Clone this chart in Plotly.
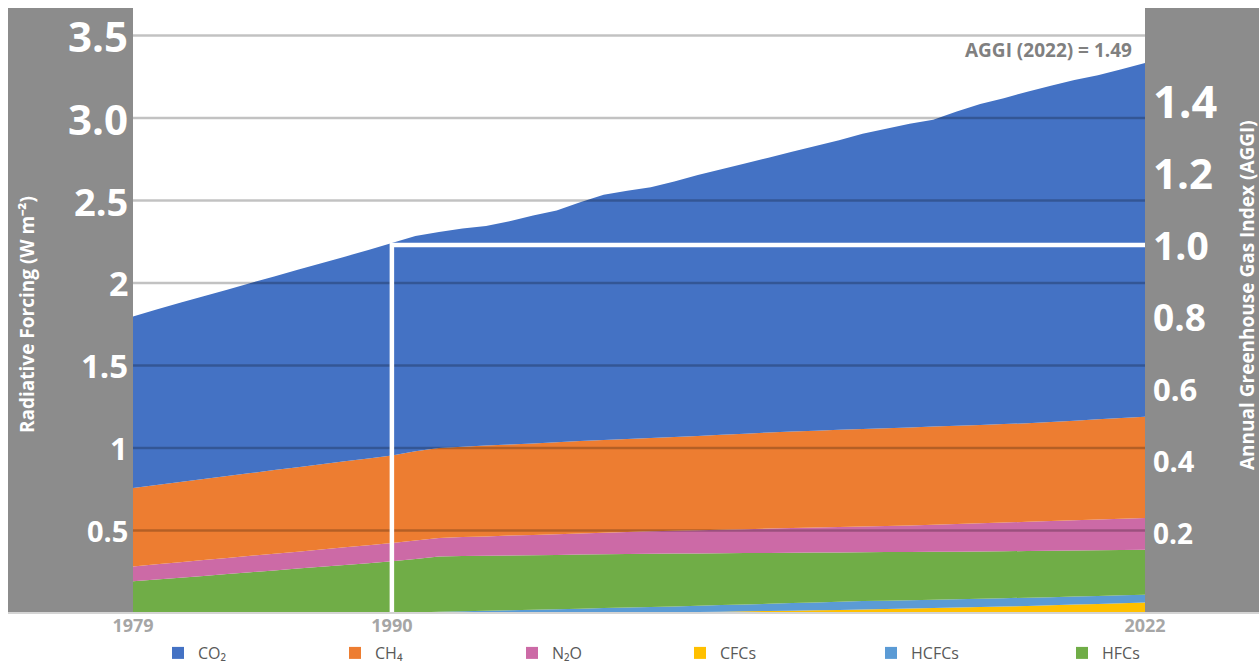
import plotly.graph_objects as go

# ---------------- data ----------------
years = list(range(1979, 2023))

co2 = [1.039, 1.064, 1.086, 1.108, 1.130, 1.152, 1.174, 1.196, 1.218, 1.240, 1.263, 1.287,
       1.305, 1.310, 1.322, 1.330, 1.353, 1.382, 1.405, 1.448, 1.487, 1.506, 1.520, 1.548,
       1.582, 1.610, 1.638, 1.666, 1.695, 1.725, 1.755, 1.790, 1.815, 1.840, 1.860, 1.905,
       1.945, 1.975, 2.010, 2.037, 2.064, 2.086, 2.113, 2.143]
ch4 = [0.476, 0.481, 0.486, 0.491, 0.496, 0.501, 0.507, 0.512, 0.517, 0.522, 0.526, 0.531,
       0.540, 0.545, 0.548, 0.551, 0.553, 0.555, 0.557, 0.560, 0.562, 0.563, 0.565, 0.569,
       0.571, 0.575, 0.579, 0.582, 0.585, 0.587, 0.589, 0.590, 0.592, 0.594, 0.595, 0.596,
       0.596, 0.597, 0.597, 0.601, 0.604, 0.608, 0.611, 0.614]
n2o = [0.090, 0.092, 0.094, 0.096, 0.098, 0.100, 0.101, 0.103, 0.105, 0.107, 0.109, 0.111,
       0.112, 0.112, 0.115, 0.117, 0.120, 0.123, 0.126, 0.128, 0.130, 0.134, 0.136, 0.138,
       0.141, 0.143, 0.145, 0.148, 0.150, 0.152, 0.154, 0.157, 0.159, 0.161, 0.164, 0.167,
       0.171, 0.174, 0.177, 0.180, 0.183, 0.186, 0.189, 0.193]
hfcs = [0.192, 0.203, 0.214, 0.225, 0.236, 0.247, 0.258, 0.269, 0.280, 0.291, 0.302, 0.313,
        0.325, 0.336, 0.335, 0.334, 0.333, 0.330, 0.329, 0.328, 0.326, 0.324, 0.323, 0.320,
        0.317, 0.314, 0.311, 0.308, 0.305, 0.302, 0.299, 0.296, 0.294, 0.292, 0.290, 0.288,
        0.286, 0.284, 0.283, 0.281, 0.279, 0.277, 0.275, 0.273]
hcfcs = [0, 0, 0, 0, 0, 0, 0, 0, 0, 0, 0, 0,
         0.003, 0.007, 0.010, 0.013, 0.016, 0.020, 0.023, 0.026, 0.030, 0.033, 0.034, 0.036,
         0.038, 0.040, 0.042, 0.044, 0.046, 0.048, 0.050, 0.051, 0.051, 0.051, 0.051, 0.051,
         0.051, 0.051, 0.050, 0.049, 0.049, 0.048, 0.048, 0.046]
cfcs = [0, 0, 0, 0, 0, 0, 0, 0, 0, 0, 0, 0,
        0, 0, 0, 0, 0, 0, 0, 0, 0, 0, 0.002, 0.004,
        0.006, 0.008, 0.010, 0.012, 0.014, 0.016, 0.018, 0.021, 0.024, 0.027, 0.030, 0.033,
        0.036, 0.039, 0.043, 0.047, 0.051, 0.055, 0.059, 0.064]

forcing_ticks = [0.5, 1, 1.5, 2, 2.5, 3.0, 3.5]
forcing_ticktext = ["0.5", "1", "1.5", "2", "2.5", "3.0", "3.5"]
forcing_tick_sizes = [29, 31, 33, 34, 38, 42, 42]

aggi_ticks = [0.2, 0.4, 0.6, 0.8, 1.0, 1.2, 1.4]
aggi_ticktext = ["0.2", "0.4", "0.6", "0.8", "1.0", "1.2", "1.4"]
aggi_tick_sizes = [28, 29, 31, 37, 39, 42, 45]

year_ticks = [1979, 1990, 2022]
base_year = 1990
aggi_2022 = 1.49

series = [
    ("CFCs", cfcs, "#ffc000"),
    ("HCFCs", hcfcs, "#5b9bd5"),
    ("HFCs", hfcs, "#70ad47"),
    ("N₂O", n2o, "#cc6aa6"),
    ("CH₄", ch4, "#ed7d31"),
    ("CO₂", co2, "#4472c4"),
]
legend_groups = [["CO₂", "CH₄", "N₂O"], ["CFCs", "HCFCs", "HFCs"]]

# ---------------- layout geometry ----------------
W, H = 1259, 666
ML, MR, MT, MB = 133, 114, 8, 53
PW, PH = W - ML - MR, H - MT - MB
Y_RANGE = [0, 3.667]
Y2_RANGE = [-0.0222, 1.658]
GRAY = "#8c8c8c"
FONT = "Open Sans"

fig = go.Figure()

for name, vals, col in series:
    fig.add_trace(go.Scatter(
        x=years, y=vals, stackgroup="one", mode="none",
        fillcolor=col, name=name, showlegend=False, hoverinfo="skip"))

# gridlines drawn above the areas (semi-transparent)
gx, gy = [], []
for v in forcing_ticks:
    gx += [years[0], years[-1], None]
    gy += [v, v, None]
fig.add_trace(go.Scatter(x=gx, y=gy, mode="lines",
                         line=dict(color="rgba(0,0,0,0.24)", width=2.5),
                         showlegend=False, hoverinfo="skip"))

# AGGI = 1 reference (1990)
fig.add_trace(go.Scatter(x=[base_year, base_year, years[-1]],
                         y=[Y2_RANGE[0], 1.0, 1.0], yaxis="y2", mode="lines",
                         line=dict(color="white", width=4.5),
                         showlegend=False, hoverinfo="skip"))

# legend entries (two legend blocks so the row does not wrap)
color_of = {n: c for n, _, c in series}
for gi, group in enumerate(legend_groups):
    for name in group:
        fig.add_trace(go.Scatter(x=[None], y=[None], mode="markers", name=name,
                                 legend="legend" if gi == 0 else "legend2",
                                 marker=dict(symbol="square", size=12, color=color_of[name]),
                                 showlegend=True))

annotations = []
for v, t, s in zip(forcing_ticks, forcing_ticktext, forcing_tick_sizes):
    annotations.append(dict(text=t, xref="paper", yref="y", x=0, y=v,
                            xanchor="right", yanchor="middle", xshift=-3, showarrow=False,
                            font=dict(family=FONT, size=s, color="white", weight="bold")))
for v, t, s in zip(aggi_ticks, aggi_ticktext, aggi_tick_sizes):
    annotations.append(dict(text=t, xref="paper", yref="y2", x=1, y=v,
                            xanchor="left", yanchor="middle", xshift=6, showarrow=False,
                            font=dict(family=FONT, size=s, color="white", weight="bold")))
annotations += [
    dict(text="AGGI (%d) = %.2f" % (years[-1], aggi_2022), xref="paper", yref="paper",
         x=1, y=(H - MB - 50) / PH, xanchor="right", yanchor="middle", xshift=-11,
         showarrow=False,
         font=dict(family=FONT, size=19, color="#808080", weight="bold")),
    dict(text="Radiative Forcing (W m⁻²)", xref="paper", yref="paper",
         x=(27 - ML) / PW, y=(H - MB - 315) / PH, xanchor="center", yanchor="middle",
         textangle=-90, showarrow=False,
         font=dict(family=FONT, size=19, color="white", weight="bold")),
    dict(text="Annual Greenhouse Gas Index (AGGI)", xref="paper", yref="paper",
         x=(1247 - ML) / PW, y=(H - MB - 295) / PH, xanchor="center", yanchor="middle",
         textangle=-90, showarrow=False,
         font=dict(family=FONT, size=19, color="white", weight="bold")),
]

legend_common = dict(orientation="h", xref="container", yref="container",
                     xanchor="left", yanchor="middle", y=(H - 653) / H,
                     traceorder="normal", entrywidthmode="pixels",
                     font=dict(family=FONT, size=16, color="#595959"),
                     bgcolor="rgba(0,0,0,0)", itemclick=False)

fig.update_layout(
    width=W, height=H,
    margin=dict(l=ML, r=MR, t=MT, b=MB, autoexpand=False),
    paper_bgcolor="white", plot_bgcolor="white",
    font=dict(family=FONT),
    showlegend=True,
    legend=dict(legend_common, x=158 / W, entrywidth=132),
    legend2=dict(legend_common, x=680 / W, entrywidth=146),
    xaxis=dict(range=[years[0], years[-1]], showgrid=False, zeroline=False,
               showline=False, ticks="", tickvals=year_ticks,
               ticktext=[str(y) for y in year_ticks],
               tickfont=dict(family=FONT, size=18, color="#a6a6a6", weight="bold")),
    yaxis=dict(range=Y_RANGE, showgrid=False, zeroline=False, showline=False,
               showticklabels=False, ticks=""),
    yaxis2=dict(range=Y2_RANGE, overlaying="y", side="right", showgrid=False,
                zeroline=False, showline=False, showticklabels=False, ticks=""),
    shapes=[
        dict(type="rect", xref="paper", yref="paper", x0=-(ML - 8) / PW, x1=0,
             y0=0, y1=1, fillcolor=GRAY, line=dict(width=0), layer="below"),
        dict(type="rect", xref="paper", yref="paper", x0=1, x1=1 + MR / PW,
             y0=0, y1=1, fillcolor=GRAY, line=dict(width=0), layer="below"),
        dict(type="line", xref="paper", yref="paper", x0=-(ML - 8) / PW, x1=1 + MR / PW,
             y0=0, y1=0, line=dict(color="#d4d4d4", width=2), layer="above"),
    ],
    annotations=annotations,
)

fig.write_html("out.html", config={"displayModeBar": False},
               post_script="document.body.style.margin='0';document.body.style.overflow='hidden';")
